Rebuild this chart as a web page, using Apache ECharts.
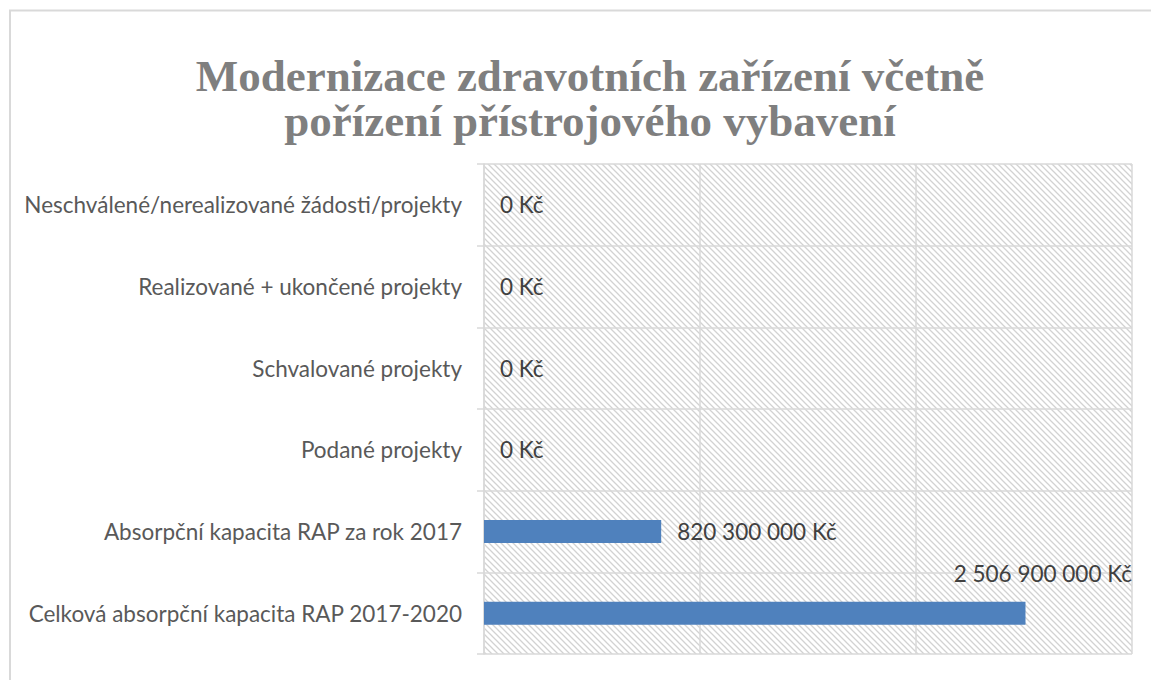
<!DOCTYPE html>
<html>
<head>
<meta charset="utf-8">
<script src="https://cdn.jsdelivr.net/npm/echarts@6/dist/echarts.min.js"></script>
<style>
html,body{margin:0;padding:0;background:#fff;}
#chart{width:1151px;height:680px;}
</style>
</head>
<body>
<div id="chart"></div>
<script>
const titleLines = ['Modernizace zdravotních zařízení včetně', 'pořízení přístrojového vybavení'];
const categories = [
  'Celková absorpční kapacita RAP 2017-2020',
  'Absorpční kapacita RAP za rok 2017',
  'Podané projekty',
  'Schvalované projekty',
  'Realizované + ukončené projekty',
  'Neschválené/nerealizované žádosti/projekty'
];
const values = [2506900000, 820300000, 0, 0, 0, 0];
const axisMax = 3000000000;
const axisInterval = 1000000000;

function fmt(v){
  return String(v).replace(/\B(?=(\d{3})+(?!\d))/g, ' ') + ' Kč';
}

// hatch pattern
const pc = document.createElement('canvas');
pc.width = 6; pc.height = 6;
const ctx = pc.getContext('2d');
ctx.fillStyle = '#ffffff';
ctx.fillRect(0,0,6,6);
ctx.strokeStyle = '#d2d2d2';
ctx.lineWidth = 1.3;
ctx.beginPath();
ctx.moveTo(-6,-6); ctx.lineTo(12,12);
ctx.moveTo(-6,0); ctx.lineTo(6,12);
ctx.moveTo(0,-6); ctx.lineTo(12,6);
ctx.stroke();
const patternUrl = pc.toDataURL();

const chart = echarts.init(document.getElementById('chart'), null, {renderer:'svg'});
const seriesData = values.map((v, i) => {
  const d = {value: v};
  if (i === 0) {
    d.label = {position: [648, -28], align: 'right', verticalAlign: 'middle'};
  }
  return d;
});
chart.setOption({
  animation: false,
  backgroundColor: '#ffffff',
  title: {
    text: titleLines.join('\n'),
    left: 585,
    textAlign: 'center',
    top: 48,
    textStyle: {
      fontFamily: 'Liberation Serif',
      fontWeight: 'bold',
      fontSize: 45,
      lineHeight: 45,
      color: '#7f7f7f'
    }
  },
  graphic: [{
    type: 'rect',
    z: -10,
    shape: {x: 10, y: 10.5, width: 1160, height: 700},
    style: {fill: 'none', stroke: '#d9d9d9', lineWidth: 2}
  }],
  grid: {
    left: 484, right: 19, top: 164, bottom: 26,
    containLabel: false,
    outerBoundsMode: 'none',
    show: true,
    borderWidth: 0,
    backgroundColor: {image: patternUrl, repeat: 'repeat'}
  },
  xAxis: {
    type: 'value',
    min: 0, max: axisMax, interval: axisInterval,
    axisLabel: {show: false},
    axisLine: {show: false},
    axisTick: {show: false},
    splitLine: {show: true, lineStyle: {color: '#d9d9d9', width: 1.5}}
  },
  yAxis: {
    type: 'category',
    data: categories,
    axisLine: {show: true, lineStyle: {color: '#d9d9d9', width: 1.5}},
    axisTick: {show: true, length: 7, lineStyle: {color: '#d9d9d9', width: 1.5}},
    splitLine: {show: true, lineStyle: {color: '#d9d9d9', width: 1.5}},
    axisLabel: {
      margin: 22,
      fontFamily: 'Lato',
      fontSize: 22.5,
      color: '#595959'
    }
  },
  series: [{
    type: 'bar',
    data: seriesData,
    barWidth: 23,
    itemStyle: {color: '#4f81bd'},
    label: {
      show: true,
      position: 'right',
      distance: 16,
      fontFamily: 'Lato',
      fontSize: 22.5,
      color: '#404040',
      formatter: p => fmt(p.value)
    }
  }]
});
</script>
</body>
</html>
